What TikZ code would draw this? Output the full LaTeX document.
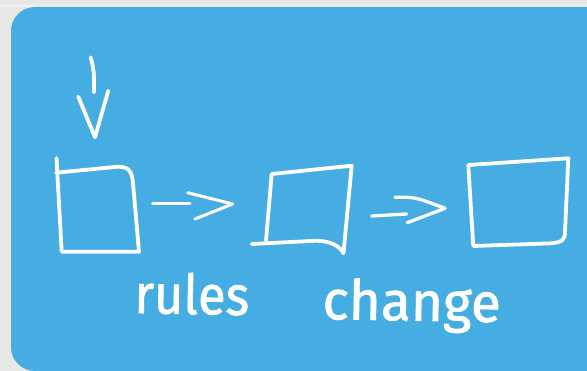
\documentclass[tikz,border=0pt]{standalone}
\usepackage{fontspec}
\setmainfont{Fira Sans}
\newfontfamily\labelfont{Fira Sans}[FakeBold=1.3]
\definecolor{panelblue}{HTML}{45ADE1}
\definecolor{bggray}{HTML}{E7E7E7}
\tikzset{
  sketch/.style={draw=white, line width=3.8pt, line cap=round, line join=round},
  label/.style={text=white, font=\labelfont\fontsize{55}{60}\selectfont, inner sep=0pt}
}
\begin{document}
\begin{tikzpicture}[x=1pt,y=-1pt]
\useasboundingbox (0,0) rectangle (587,371);
\fill[bggray] (0,0) rectangle (587,371);
\fill[white!40!bggray] (0,5.5) rectangle (587,7);
\fill[panelblue, rounded corners=24pt] (11,7) rectangle (640,371) ;
\fill[panelblue] (300,7) rectangle (587,371);
% down arrow
\draw[sketch] (90.7,57.3) .. controls (94,70) .. (94,92.3);
\draw[sketch] (78.3,96.7) -- (95,137.3) -- (108.3,90.7);
% square 1
\draw[sketch] (56.5,158) -- (61.7,251.7) -- (139,251.7) -- (133,183) .. controls (132,170) and (128,167) .. (118,166.7) -- (56,172.7);
% arrow 1
\coordinate (a1s) at (152.7,204);
\coordinate (a1e) at (190,204);
\draw[sketch, line width=3pt] (a1s) -- (a1e);
\draw[sketch, line width=3pt] (187.7,192.7) -- (232.7,204) -- (195,219);
% square 2
\draw[sketch] (251.7,244) -- (316.7,240.7) .. controls (330,241) and (340,246) .. (343.5,253.3) -- (351.7,165.7) -- (271.7,174) -- (266,240.7);
% arrow 2
\draw[sketch, line width=3.3pt] (371.7,216) -- (406.7,214);
\draw[sketch, line width=3.3pt] (395,197.3) .. controls (415,197) .. (445,208.3) -- (407.3,222.7);
% square 3
\draw[sketch] (468.3,165) -- (473.3,246) -- (552,243.3) .. controls (562,242) and (565,240) .. (565,232) -- (568.3,158.3) -- (468.3,165);
% labels
\node[label, anchor=base west, rotate=-1, xscale=0.92] (rules) at (134,313) {rules};
\node[label, anchor=base west, rotate=-1] (change) at (322,319) {change};
\end{tikzpicture}
\end{document}
